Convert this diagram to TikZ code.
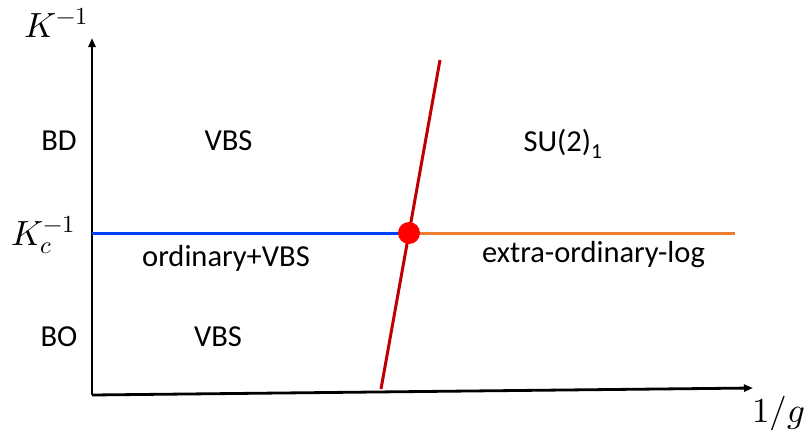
\documentclass[tikz,border=0pt]{standalone}
\usepackage{fontspec}
\setmainfont{Carlito}
\usepackage{unicode-math}
\setmathfont{Latin Modern Math}
\usetikzlibrary{arrows.meta}
\begin{document}
\begin{tikzpicture}[x=1pt,y=-1pt,
  lbl/.style={font=\fontsize{30.5}{34}\selectfont, inner sep=0pt, anchor=base},
  mlbl/.style={font=\fontsize{35}{40}\selectfont, inner sep=0pt, anchor=base west},
  axis/.style={line width=2.8pt, -{Triangle[length=9pt,width=7pt]}},
  phase/.style={line width=3pt}]
\useasboundingbox (0,0) rectangle (804,429);
\coordinate (O) at (92,395);
\coordinate (Ytop) at (92,38);
\coordinate (Xend) at (753,388);
\draw[axis] (O) -- (Ytop);
\draw[axis] (O) -- (Xend);
\coordinate (L) at (92,233);
\coordinate (C) at (409,233);
\coordinate (R) at (735,233);
\draw[phase, draw={rgb,255:red,0;green,64;blue,255}] (L) -- (C);
\draw[phase, draw={rgb,255:red,237;green,125;blue,49}] (C) -- (R);
\coordinate (Rb) at (381,389);
\coordinate (Rt) at (440,60);
\draw[line width=3pt, draw={rgb,255:red,192;green,0;blue,0}] (Rb) -- (Rt);
\fill[red] (C) circle (11);
\node[mlbl] (ky) at (24,37) {$K^{-1}$};
\node[mlbl] (kc) at (11,245) {$K_c^{-1}$};
\node[mlbl] (gx) at (752,422) {$1/g$};
\node[lbl] (bd) at (59,150) {BD};
\node[lbl] (vbs1) at (228.5,150) {VBS};
\node[lbl] (su) at (563,151) {SU(2)\textsubscript{1}};
\node[lbl] (ord) at (226,266) {ordinary+VBS};
\node[lbl] (ext) at (593.5,262) {extra-ordinary-log};
\node[lbl] (bo) at (59,346) {BO};
\node[lbl] (vbs2) at (218,346) {VBS};
\end{tikzpicture}
\end{document}
